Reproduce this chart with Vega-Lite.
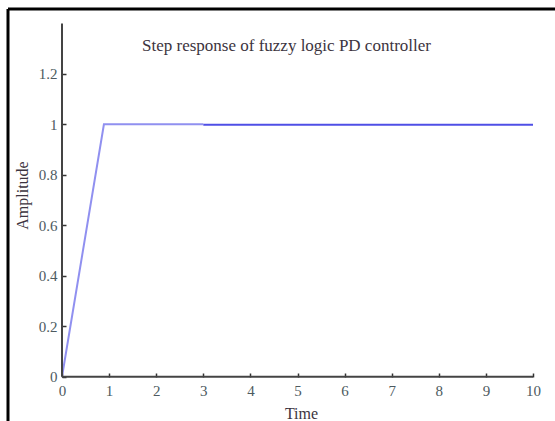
{
  "$schema": "https://vega.github.io/schema/vega-lite/v6.json",
  "autosize": {"type": "none"},
  "padding": {"left": 8, "top": 9, "right": 0, "bottom": 0},
  "width": 547,
  "height": 412,
  "background": "white",
  "config": {"view": {"stroke": null}, "font": "Liberation Serif"},
  "title": {"text": "Step response of fuzzy logic PD controller", "font": "Liberation Serif", "fontSize": 17, "fontWeight": "normal", "color": "#3c3440", "anchor": "middle", "frame": "group", "baseline": "middle", "offset": -55, "dx": 5},
  "data": {"values": [{}]},
  "datasets": {
    "resp": [
      {"time": 0, "amp": 0, "seg": "a"},
      {"time": 0.89, "amp": 1, "seg": "a"},
      {"time": 3.0, "amp": 1, "seg": "a"},
      {"time": 3.0, "amp": 0.998, "seg": "b"},
      {"time": 10, "amp": 0.998, "seg": "b"}
    ]
  },
  "layer": [
    {
      "data": {"name": "resp"},
      "mark": {"type": "line", "strokeWidth": 2},
      "encoding": {
        "x": {"field": "time", "type": "quantitative", "title": "Time",
          "scale": {"domain": [-1.1465, 10.467], "nice": false, "zero": false},
          "axis": {"values": [0,1,2,3,4,5,6,7,8,9,10], "format": "d", "domain": false, "grid": false, "tickSize": -4, "tickWidth": 1.5, "tickColor": "#333333", "offset": -44, "labelFont": "Liberation Serif", "labelFontSize": 15, "labelColor": "#4d5a60", "labelPadding": 10, "titleFont": "Liberation Serif", "titleFontSize": 16, "titleFontWeight": "normal", "titleColor": "#3c3440", "titleX": 293, "titleY": 36, "titleBaseline": "middle", "titleAnchor": "start", "titleAlign": "center"}},
        "y": {"field": "amp", "type": "quantitative", "title": "Amplitude",
          "scale": {"domain": [-0.1753, 1.457], "nice": false, "zero": false},
          "axis": {"values": [0,0.2,0.4,0.6,0.8,1,1.2], "format": "~g", "domain": false, "grid": false, "tickSize": -4, "tickWidth": 1.5, "tickColor": "#333333", "offset": -54, "labelFont": "Liberation Serif", "labelFontSize": 15, "labelColor": "#4d5a60", "labelPadding": 9, "titleFont": "Liberation Serif", "titleFontSize": 16, "titleFontWeight": "normal", "titleColor": "#3c3440", "titleX": -40, "titleY": 186, "titleBaseline": "middle", "titleAlign": "center", "titleAnchor": "start"}},
        "color": {"field": "seg", "type": "nominal", "scale": {"domain": ["a", "b"], "range": ["#9090f0", "#4f4fe6"]}, "legend": null}
      }
    },
    {
      "mark": {"type": "rule", "color": "#000000", "strokeWidth": 3},
      "encoding": {"x": {"datum": -1.1465, "type": "quantitative"}}
    },
    {
      "mark": {"type": "rule", "color": "#000000", "strokeWidth": 3},
      "encoding": {"y": {"datum": 1.457, "type": "quantitative"}}
    },
    {
      "mark": {"type": "rule", "color": "#444444", "strokeWidth": 2},
      "encoding": {
        "x": {"datum": 0, "type": "quantitative"},
        "x2": {"datum": 10},
        "y": {"datum": 0, "type": "quantitative"}
      }
    },
    {
      "mark": {"type": "rule", "color": "#444444", "strokeWidth": 2},
      "encoding": {
        "x": {"datum": 0, "type": "quantitative"},
        "y": {"datum": 0, "type": "quantitative"},
        "y2": {"datum": 1.4}
      }
    }
  ]
}
